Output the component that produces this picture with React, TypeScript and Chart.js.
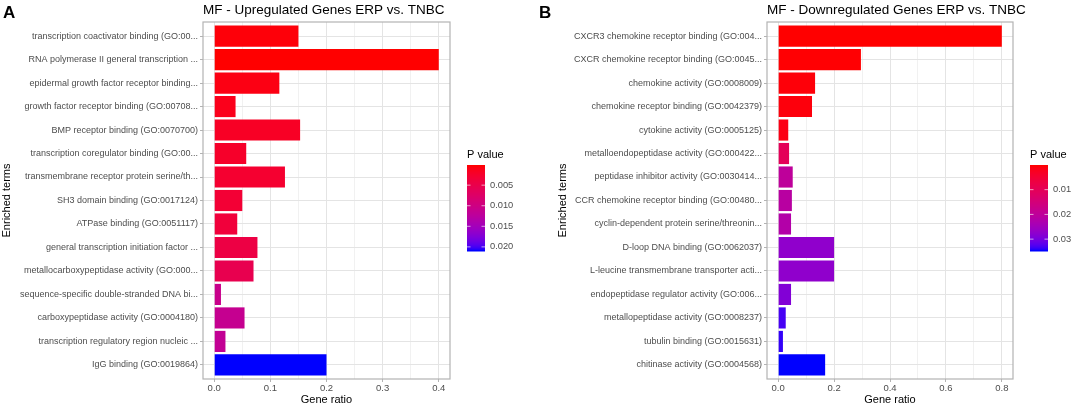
import React, { useEffect, useRef } from 'react';
import { Chart, registerables } from 'chart.js';

Chart.register(...registerables);

const FONT = '"Liberation Sans", Arial, Helvetica, sans-serif';
Chart.defaults.font.family = FONT;

// Panel A - upregulated
const upTerms = [
  'transcription coactivator binding (GO:00...',
  'RNA polymerase II general transcription ...',
  'epidermal growth factor receptor binding...',
  'growth factor receptor binding (GO:00708...',
  'BMP receptor binding (GO:0070700)',
  'transcription coregulator binding (GO:00...',
  'transmembrane receptor protein serine/th...',
  'SH3 domain binding (GO:0017124)',
  'ATPase binding (GO:0051117)',
  'general transcription initiation factor ...',
  'metallocarboxypeptidase activity (GO:000...',
  'sequence-specific double-stranded DNA bi...',
  'carboxypeptidase activity (GO:0004180)',
  'transcription regulatory region nucleic ...',
  'IgG binding (GO:0019864)',
];
const upGeneRatio = [0.15, 0.4, 0.116, 0.038, 0.153, 0.057, 0.126, 0.05, 0.041, 0.077, 0.07, 0.012, 0.054, 0.02, 0.2];
const upPValue = [0.0004, 0.0001, 0.0008, 0.0012, 0.0018, 0.0022, 0.0026, 0.003, 0.0035, 0.0043, 0.0053, 0.0108, 0.0112, 0.0116, 0.021];
const upLegendTicks = [0.005, 0.01, 0.015, 0.02];

// Panel B - downregulated
const downTerms = [
  'CXCR3 chemokine receptor binding (GO:004...',
  'CXCR chemokine receptor binding (GO:0045...',
  'chemokine activity (GO:0008009)',
  'chemokine receptor binding (GO:0042379)',
  'cytokine activity (GO:0005125)',
  'metalloendopeptidase activity (GO:000422...',
  'peptidase inhibitor activity (GO:0030414...',
  'CCR chemokine receptor binding (GO:00480...',
  'cyclin-dependent protein serine/threonin...',
  'D-loop DNA binding (GO:0062037)',
  'L-leucine transmembrane transporter acti...',
  'endopeptidase regulator activity (GO:006...',
  'metallopeptidase activity (GO:0008237)',
  'tubulin binding (GO:0015631)',
  'chitinase activity (GO:0004568)',
];
const downGeneRatio = [0.8, 0.296, 0.132, 0.121, 0.036, 0.039, 0.052, 0.049, 0.046, 0.2, 0.2, 0.046, 0.027, 0.017, 0.168];
const downPValue = [0.00003, 0.0002, 0.0005, 0.0007, 0.0012, 0.01, 0.02, 0.0212, 0.0222, 0.0275, 0.0275, 0.029, 0.0333, 0.034, 0.0348];
const downLegendTicks = [0.01, 0.02, 0.03];

// red -> blue interpolated in Lab, like ggplot's gradient
const toLin = (c: number) => { c /= 255; return c <= 0.04045 ? c / 12.92 : Math.pow((c + 0.055) / 1.055, 2.4); };
const toSrgb = (c: number) => {
  const v = c <= 0.0031308 ? 12.92 * c : 1.055 * Math.pow(c, 1 / 2.4) - 0.055;
  return Math.round(Math.min(1, Math.max(0, v)) * 255);
};
const rgbToLab = ([r, g, b]: number[]) => {
  const R = toLin(r), G = toLin(g), B = toLin(b);
  const X = (0.4124 * R + 0.3576 * G + 0.1805 * B) / 0.95047;
  const Y = 0.2126 * R + 0.7152 * G + 0.0722 * B;
  const Z = (0.0193 * R + 0.1192 * G + 0.9505 * B) / 1.08883;
  const f = (t: number) => (t > 216 / 24389 ? Math.cbrt(t) : (24389 / 27 * t + 16) / 116);
  const fx = f(X), fy = f(Y), fz = f(Z);
  return [116 * fy - 16, 500 * (fx - fy), 200 * (fy - fz)];
};
const labToRgb = ([L, a, b]: number[]) => {
  const fy = (L + 16) / 116, fx = fy + a / 500, fz = fy - b / 200;
  const inv = (t: number) => (t * t * t > 216 / 24389 ? t * t * t : (116 * t - 16) / (24389 / 27));
  const X = inv(fx) * 0.95047, Y = inv(fy), Z = inv(fz) * 1.08883;
  const R = 3.2406 * X - 1.5372 * Y - 0.4986 * Z;
  const G = -0.9689 * X + 1.8758 * Y + 0.0415 * Z;
  const B = 0.0557 * X - 0.204 * Y + 1.057 * Z;
  return [toSrgb(R), toSrgb(G), toSrgb(B)];
};
const LOW = rgbToLab([255, 0, 0]);
const HIGH = rgbToLab([0, 0, 255]);
const gradientColor = (t: number) => {
  const c = labToRgb(LOW.map((v, i) => v + (HIGH[i] - v) * t));
  return `rgb(${c[0]},${c[1]},${c[2]})`;
};

interface PanelProps {
  letter: string;
  title: string;
  terms: string[];
  ratios: number[];
  pValues: number[];
  legendTicks: number[];
  legendDecimals: number;
  xMin: number;
  xMax: number;
  minorStep: number;
  majorStep: number;
  left: number;
  padLeft: number;
  yWidth: number;
  padRight: number;
}

const W = 536;
const H = 407;

const Panel: React.FC<PanelProps> = (p) => {
  const canvasRef = useRef<HTMLCanvasElement>(null);

  useEffect(() => {
    if (!canvasRef.current) return;
    const pMin = Math.min(...p.pValues);
    const pMax = Math.max(...p.pValues);
    const colors = p.pValues.map(v => gradientColor((v - pMin) / (pMax - pMin)));
    const isMajor = (v: number) => Math.abs(v / p.majorStep - Math.round(v / p.majorStep)) < 1e-6;

    const decor = {
      id: 'decor',
      afterDraw(chart: Chart) {
        const ctx = chart.ctx;
        const a = chart.chartArea;
        ctx.save();
        // letter
        ctx.fillStyle = '#000';
        ctx.font = `bold 17px ${FONT}`;
        ctx.textBaseline = 'alphabetic';
        ctx.textAlign = 'left';
        ctx.fillText(p.letter, 3, 18);
        // title
        ctx.font = `13.5px ${FONT}`;
        ctx.fillText(p.title, a.left, 14);
        // panel border
        ctx.strokeStyle = '#b3b3b3';
        ctx.lineWidth = 1.2;
        ctx.strokeRect(a.left, a.top, a.right - a.left, a.bottom - a.top);
        // legend
        const mid = (a.top + a.bottom) / 2;
        const lx = a.right + 17;
        const top = mid - 35.5;
        const h = 86;
        const w = 18;
        ctx.font = `11px ${FONT}`;
        ctx.fillStyle = '#000';
        ctx.textBaseline = 'middle';
        ctx.fillText('P value', lx, top - 10);
        for (let i = 0; i < h; i++) {
          ctx.fillStyle = gradientColor(i / (h - 1));
          ctx.fillRect(lx, top + i, w, 1.5);
        }
        ctx.font = `9.3px ${FONT}`;
        p.legendTicks.forEach(v => {
          const y = top + ((v - pMin) / (pMax - pMin)) * h;
          ctx.strokeStyle = 'rgba(255,255,255,0.8)';
          ctx.lineWidth = 0.8;
          ctx.beginPath();
          ctx.moveTo(lx, y); ctx.lineTo(lx + 3.5, y);
          ctx.moveTo(lx + w - 3.5, y); ctx.lineTo(lx + w, y);
          ctx.stroke();
          ctx.fillStyle = '#4d4d4d';
          ctx.fillText(v.toFixed(p.legendDecimals), lx + w + 5, y);
        });
        ctx.restore();
      },
    };

    const chart = new Chart(canvasRef.current, {
      type: 'bar',
      data: {
        datasets: [{
          data: p.ratios.map((v, i) => ({ x: v, y: i })),
          backgroundColor: colors,
          borderWidth: 0,
          barPercentage: 0.9,
          categoryPercentage: 1,
        }],
      },
      options: {
        animation: false,
        responsive: false,
        indexAxis: 'y',
        layout: { padding: { top: 22, right: p.padRight, left: p.padLeft, bottom: 0 } },
        plugins: { legend: { display: false }, tooltip: { enabled: false } },
        scales: {
          x: {
            type: 'linear',
            min: p.xMin,
            max: p.xMax,
            offset: false,
            afterFit: (s: any) => { s.height = 28; },
            ticks: {
              stepSize: p.minorStep,
              includeBounds: false,
              autoSkip: false,
              maxRotation: 0,
              padding: 1,
              color: '#4d4d4d',
              font: { size: 9.5 },
              callback: (v: any) => (isMajor(Number(v)) ? Number(v).toFixed(1) : ''),
            },
            grid: {
              color: (c: any) => (isMajor(c.tick.value) ? '#e4e4e4' : '#f1f1f1'),
              lineWidth: 1,
              tickLength: 3,
              tickColor: (c: any) => (isMajor(c.tick.value) ? '#b3b3b3' : 'rgba(0,0,0,0)'),
            },
            border: { display: false },
            title: { display: true, text: 'Gene ratio', color: '#000', font: { size: 11 }, padding: 0 },
          },
          y: {
            type: 'linear',
            min: -0.6,
            max: p.terms.length - 1 + 0.6,
            reverse: true,
            offset: false,
            afterFit: (s: any) => { s.width = p.yWidth; },
            ticks: {
              stepSize: 1,
              includeBounds: false,
              autoSkip: false,
              padding: 2,
              color: '#4d4d4d',
              font: { size: 9 },
              callback: (v: any) => p.terms[Number(v)] ?? '',
            },
            grid: { offset: false, color: '#e4e4e4', lineWidth: 1, tickLength: 3, tickColor: '#b3b3b3' },
            border: { display: false },
            title: { display: true, text: 'Enriched terms', color: '#000', font: { size: 11 }, padding: 0 },
          },
        },
      },
      plugins: [decor],
    });
    return () => chart.destroy();
  }, []);

  return (
    <canvas
      ref={canvasRef}
      width={W}
      height={H}
      style={{ position: 'absolute', left: p.left, top: 0, width: W, height: H }}
    />
  );
};

export default function App() {
  return (
    <div style={{ position: 'absolute', left: 0, top: 0, width: 1072, height: 407, background: '#fff' }}>
      <Panel
        letter="A"
        title="MF - Upregulated Genes ERP vs. TNBC"
        terms={upTerms}
        ratios={upGeneRatio}
        pValues={upPValue}
        legendTicks={upLegendTicks}
        legendDecimals={3}
        xMin={-0.02}
        xMax={0.42}
        minorStep={0.05}
        majorStep={0.1}
        left={0}
        padLeft={0}
        yWidth={203}
        padRight={86}
      />
      <Panel
        letter="B"
        title="MF - Downregulated Genes ERP vs. TNBC"
        terms={downTerms}
        ratios={downGeneRatio}
        pValues={downPValue}
        legendTicks={downLegendTicks}
        legendDecimals={2}
        xMin={-0.04}
        xMax={0.84}
        minorStep={0.1}
        majorStep={0.2}
        left={536}
        padLeft={20}
        yWidth={211}
        padRight={59}
      />
    </div>
  );
}
